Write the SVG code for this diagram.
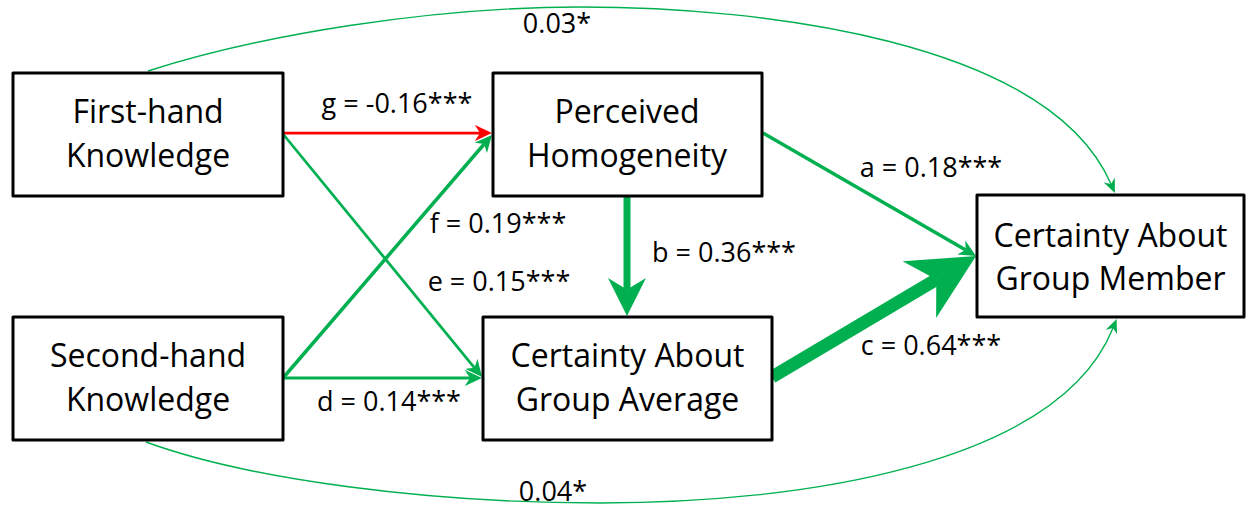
<svg xmlns="http://www.w3.org/2000/svg" width="1248" height="508" viewBox="0 0 1248 508">
<style>
.box{fill:#fff;stroke:#000;stroke-width:3;stroke-linejoin:round}
.nt{font-family:"Open Sans","Liberation Sans",sans-serif;font-size:32px;fill:#000;text-anchor:middle}
.lb{font-family:"Open Sans","Liberation Sans",sans-serif;font-size:27px;fill:#000;text-anchor:middle}
.g{fill:none;stroke:#00B050}
.r{fill:none;stroke:#FF0000}
.cv{fill:none;stroke:#00B050;stroke-width:1.4}
</style>
<defs>
<marker id="mG" viewBox="0 0 10 10" refX="3" refY="5" markerUnits="userSpaceOnUse" markerWidth="17" markerHeight="16" orient="auto" preserveAspectRatio="none"><path d="M0,0 L10,5 L0,10 L3,5 Z" fill="#00B050"/></marker>
<marker id="mR" viewBox="0 0 10 10" refX="3" refY="5" markerUnits="userSpaceOnUse" markerWidth="17" markerHeight="16" orient="auto" preserveAspectRatio="none"><path d="M0,0 L10,5 L0,10 L3,5 Z" fill="#FF0000"/></marker>
<marker id="mT" viewBox="0 0 10 10" refX="3" refY="5" markerUnits="userSpaceOnUse" markerWidth="14" markerHeight="12" orient="auto" preserveAspectRatio="none"><path d="M0,0 L10,5 L0,10 L3,5 Z" fill="#00B050"/></marker>
<marker id="mB" viewBox="0 0 10 10" refX="3" refY="5" markerUnits="userSpaceOnUse" markerWidth="38" markerHeight="38" orient="auto" preserveAspectRatio="none"><path d="M0,0 L10,5 L0,10 L3,5 Z" fill="#00B050"/></marker>
<marker id="mC" viewBox="0 0 10 10" refX="3" refY="5" markerUnits="userSpaceOnUse" markerWidth="66" markerHeight="66" orient="auto" preserveAspectRatio="none"><path d="M0,0 L10,5 L0,10 L3,5 Z" fill="#00B050"/></marker>
</defs>
<g id="connectors">
<path class="cv" d="M148,71 C260,35 430,7 580,7 C760,7 1048,40 1111,184" marker-end="url(#mT)"/>
<path class="cv" d="M146,442 C250,480 430,503 600,503 C800,503 1058,465 1113,328" marker-end="url(#mT)"/>
<line class="r" x1="283" y1="133" x2="480" y2="133" stroke-width="2.75" marker-end="url(#mR)"/>
<line class="g" x1="283" y1="134" x2="474.5" y2="367.8" stroke-width="2.75" marker-end="url(#mG)"/>
<line class="g" x1="283" y1="378" x2="484.2" y2="144" stroke-width="3.5" marker-end="url(#mG)"/>
<line class="g" x1="283" y1="378" x2="470" y2="378" stroke-width="3" marker-end="url(#mG)"/>
<line class="g" x1="763" y1="133" x2="965.7" y2="250" stroke-width="3.5" marker-end="url(#mG)"/>
<line class="g" x1="627" y1="196" x2="627" y2="289.4" stroke-width="7" marker-end="url(#mB)"/>
<line class="g" x1="772" y1="377" x2="936.3" y2="279.5" stroke-width="13" marker-end="url(#mC)"/>
</g>
<g id="labels">
<text class="lb" x="557" y="33">0.03*</text>
<text class="lb" x="397" y="113">g = -0.16***</text>
<text class="lb" x="931" y="177">a = 0.18***</text>
<text class="lb" x="498" y="233">f = 0.19***</text>
<text class="lb" x="724" y="262">b = 0.36***</text>
<text class="lb" x="499" y="291">e = 0.15***</text>
<text class="lb" x="931" y="355">c = 0.64***</text>
<text class="lb" x="389" y="411">d = 0.14***</text>
<text class="lb" x="553" y="501">0.04*</text>
</g>
<g id="first-hand">
<rect class="box" x="13" y="73" width="270" height="123"/>
<text class="nt" x="148" y="123">First-hand</text>
<text class="nt" x="148" y="167">Knowledge</text>
</g>
<g id="perceived">
<rect class="box" x="493" y="73" width="269" height="123"/>
<text class="nt" x="627" y="123">Perceived</text>
<text class="nt" x="627" y="167">Homogeneity</text>
</g>
<g id="second-hand">
<rect class="box" x="13" y="317" width="270" height="123"/>
<text class="nt" x="148" y="367">Second-hand</text>
<text class="nt" x="148" y="411">Knowledge</text>
</g>
<g id="group-average">
<rect class="box" x="483" y="317" width="289" height="123"/>
<text class="nt" x="627.5" y="367">Certainty About</text>
<text class="nt" x="627.5" y="411">Group Average</text>
</g>
<g id="group-member">
<rect class="box" x="977" y="195" width="267" height="122"/>
<text class="nt" x="1110.5" y="247">Certainty About</text>
<text class="nt" x="1110.5" y="290">Group Member</text>
</g>
</svg>
